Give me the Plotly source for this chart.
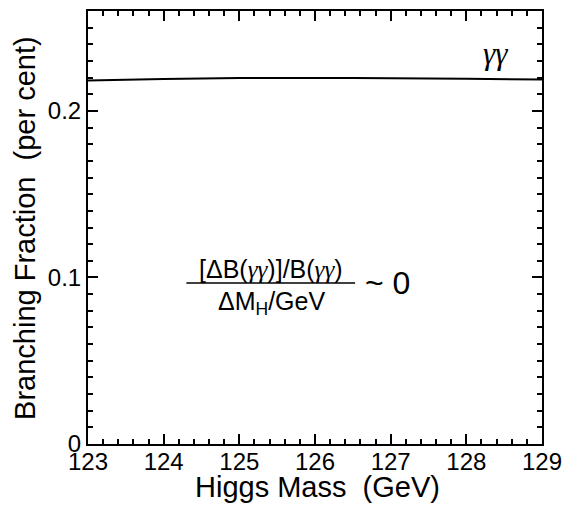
import plotly.graph_objects as go

mass = [123, 124, 125, 126, 127, 128, 129]
br_gamgam = [0.2183, 0.2192, 0.2197, 0.2198, 0.2196, 0.2193, 0.2189]
x_ticks = [123, 124, 125, 126, 127, 128, 129]
y_ticks = [0, 0.1, 0.2]
y_ticklabels = ["0", "0.1", "0.2"]

FONT = "Liberation Sans, Arial, sans-serif"
SERIF = "Liberation Serif, Times New Roman, serif"

fig = go.Figure()
fig.add_trace(go.Scatter(x=mass, y=br_gamgam, mode="lines",
                         line=dict(color="black", width=2, shape="spline"),
                         showlegend=False, hoverinfo="skip"))

axis_common = dict(showline=True, linecolor="black", linewidth=2, mirror="allticks",
                   ticks="inside", ticklen=10, tickwidth=1.5, tickcolor="black",
                   showgrid=False, zeroline=False,
                   tickfont=dict(family=FONT, size=24, color="black"))

fig.update_xaxes(range=[123, 129], tickvals=x_ticks, ticktext=[str(v) for v in x_ticks],
                 ticklabelstandoff=-5,
                 minor=dict(dtick=0.2, ticklen=5, tickwidth=1.5, tickcolor="black", ticks="inside"),
                 **axis_common)
fig.update_yaxes(range=[0, 0.26], tickvals=y_ticks, ticktext=y_ticklabels,
                 minor=dict(dtick=0.01, ticklen=5, tickwidth=1.5, tickcolor="black", ticks="inside"),
                 **axis_common)

gg = "<span style='font-family:Liberation Serif'><i>γγ</i></span>"
annotations = [
    dict(text="Higgs Mass  (GeV)", xref="paper", yref="paper", x=0.505, y=-0.1,
         xanchor="center", yanchor="middle", showarrow=False,
         font=dict(family=FONT, size=29, color="black")),
    dict(text="Branching Fraction  (per cent)", xref="paper", yref="paper", x=-0.14, y=0.5,
         xanchor="center", yanchor="middle", textangle=-90, showarrow=False,
         font=dict(family=FONT, size=29, color="black")),
    dict(text="<i>γγ</i>", xref="x", yref="y", x=128.39, y=0.2343,
         xanchor="center", yanchor="middle", showarrow=False,
         font=dict(family=SERIF, size=31, color="black")),
    dict(text="[ΔB(" + gg + ")]/B(" + gg + ")",
         xref="x", yref="y", x=125.42, y=0.1048,
         xanchor="center", yanchor="middle", showarrow=False,
         font=dict(family=FONT, size=25, color="black")),
    dict(text="ΔM<sub>H</sub>/GeV", xref="x", yref="y", x=125.42, y=0.0848,
         xanchor="center", yanchor="middle", showarrow=False,
         font=dict(family=FONT, size=25, color="black")),
    dict(text="~ 0", xref="x", yref="y", x=126.96, y=0.0968,
         xanchor="center", yanchor="middle", showarrow=False,
         font=dict(family=FONT, size=32, color="black")),
]

shapes = [dict(type="line", xref="x", yref="y", x0=124.3, x1=126.53, y0=0.0967, y1=0.0967,
               line=dict(color="black", width=1.5))]

fig.update_layout(width=571, height=506, margin=dict(l=88, r=26, t=8.5, b=62),
                  paper_bgcolor="white", plot_bgcolor="white",
                  annotations=annotations, shapes=shapes,
                  font=dict(family=FONT, color="black"))

fig.write_html("out.html", config={"displayModeBar": False},
               post_script="document.body.style.margin='0';document.body.style.overflow='hidden';")
